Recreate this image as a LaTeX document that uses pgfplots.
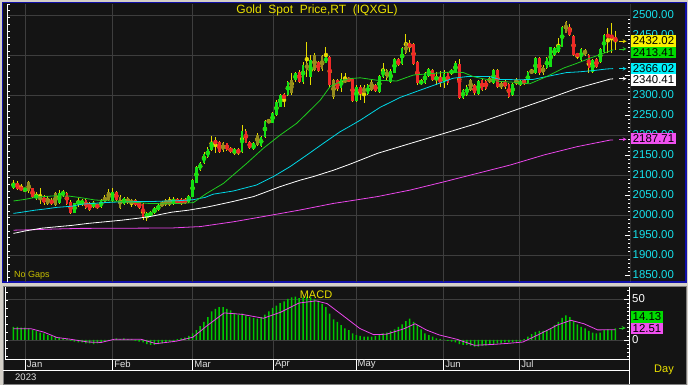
\documentclass[border=0pt]{standalone}
\usepackage{fontspec}
\setmainfont{Liberation Sans}
\usepackage{pgfplots}
\usepackage{pgfplotstable}
\pgfplotsset{compat=1.18}
\definecolor{panelbg}{RGB}{20,20,20}
\definecolor{outergray}{RGB}{212,208,200}
\definecolor{borderblue}{RGB}{16,16,168}
\definecolor{gridgray}{RGB}{62,62,62}
\definecolor{cgreen}{RGB}{20,225,20}
\definecolor{cred}{RGB}{238,40,40}
\definecolor{colive}{RGB}{150,140,30}
\definecolor{wick}{RGB}{230,220,0}
\definecolor{magreen}{RGB}{30,205,30}
\definecolor{macyan}{RGB}{0,215,230}
\definecolor{mamag}{RGB}{235,70,235}
\definecolor{labcyan}{RGB}{20,225,235}
\definecolor{ttlyellow}{RGB}{235,225,0}
\definecolor{histgreen}{RGB}{0,200,0}
\definecolor{boxgreen}{RGB}{0,220,0}
\definecolor{boxmag}{RGB}{240,80,240}
\definecolor{boxcyan}{RGB}{0,240,250}
\definecolor{boxyellow}{RGB}{250,240,0}
\definecolor{datelab}{RGB}{225,225,225}

\pgfplotsset{
  mainframe/.style={at={(7pt,103pt)}, anchor=south west, scale only axis,
    width=623pt, height=278pt,
    xmin=-1.706, xmax=161.81, ymin=1832.5, ymax=2527.5},
  overlay/.style={mainframe, hide axis},
}

\pgfplotstableread{
i o h l c t
0 2067 2088 2064 2081 1
1 2081 2084 2063 2066 2
2 2068 2077 2060 2064 2
3 2062 2068 2058 2065 1
4 2083 2086 2054 2060 3
5 2067 2068 2042 2046 2
6 2042 2058 2038 2050 1
7 2046 2067 2027 2038 3
8 2046 2050 2025 2029 2
9 2042 2048 2025 2028 3
10 2038 2042 2025 2028 2
11 2025 2058 2022 2054 3
12 2029 2062 2027 2054 1
13 2050 2062 2046 2058 1
14 2056 2058 2025 2028 2
15 2033 2037 2002 2004 2
16 2006 2031 2004 2029 1
17 2029 2042 2021 2033 1
18 2025 2040 2023 2037 1
19 2037 2040 2015 2017 2
20 2031 2033 2010 2012 2
21 2021 2034 2018 2031 1
22 2025 2028 2016 2019 2
23 2019 2040 2017 2037 1
24 2033 2050 2029 2046 3
25 2037 2066 2035 2058 3
26 2036 2067 2033 2058 1
27 2058 2060 2035 2037 2
28 2046 2050 2015 2017 3
29 2027 2046 2025 2042 1
30 2042 2045 2027 2029 3
31 2035 2040 2021 2031 3
32 2037 2040 2023 2025 2
33 2033 2035 2015 2017 2
34 2027 2029 1987 1996 2
35 1994 2008 1986 2004 1
36 1998 2010 1995 2008 1
37 2004 2019 2002 2017 1
38 2012 2027 2010 2025 1
39 2021 2035 2019 2033 3
40 2025 2040 2023 2037 3
41 2037 2046 2023 2025 3
42 2027 2046 2025 2039 1
43 2039 2042 2027 2029 2
44 2039 2042 2025 2027 2
45 2039 2042 2027 2029 2
46 2033 2050 2031 2048 1
47 2046 2090 2044 2088 1
48 2081 2123 2079 2121 1
49 2112 2133 2110 2131 1
50 2129 2158 2127 2152 1
51 2146 2169 2142 2164 1
52 2162 2197 2160 2183 1
53 2187 2196 2154 2177 2
54 2183 2185 2156 2158 2
55 2179 2183 2158 2162 3
56 2179 2181 2160 2162 2
57 2167 2170 2156 2158 2
58 2154 2167 2150 2164 1
59 2164 2167 2150 2154 2
60 2158 2225 2154 2211 1
61 2211 2215 2179 2181 2
62 2183 2186 2165 2167 2
63 2164 2182 2162 2179 1
64 2175 2206 2172 2200 3
65 2172 2198 2170 2196 1
66 2194 2238 2192 2236 1
67 2236 2238 2231 2232 3
68 2231 2258 2229 2254 1
69 2250 2287 2248 2283 1
70 2271 2302 2269 2300 1
71 2302 2304 2271 2289 2
72 2300 2336 2298 2333 1
73 2304 2356 2300 2337 3
74 2337 2358 2333 2354 1
75 2358 2362 2330 2333 2
76 2333 2383 2327 2375 1
77 2363 2433 2346 2379 3
78 2346 2400 2325 2388 1
79 2363 2404 2360 2400 3
80 2383 2386 2358 2361 2
81 2365 2400 2360 2398 3
82 2381 2421 2379 2396 1
83 2396 2398 2320 2325 2
84 2337 2340 2290 2296 3
85 2337 2340 2310 2314 2
86 2317 2354 2308 2340 1
87 2338 2354 2329 2333 3
88 2342 2344 2332 2335 2
89 2339 2341 2283 2286 2
90 2285 2324 2283 2321 1
91 2321 2325 2287 2302 2
92 2304 2325 2279 2321 3
93 2302 2327 2300 2325 1
94 2312 2337 2310 2333 3
95 2325 2328 2308 2311 2
96 2308 2350 2306 2348 1
97 2346 2381 2342 2364 1
98 2363 2366 2338 2342 3
99 2333 2365 2330 2361 1
100 2356 2392 2354 2389 1
101 2389 2392 2372 2375 2
102 2377 2420 2375 2417 1
103 2404 2452 2402 2429 3
104 2429 2438 2408 2419 2
105 2427 2431 2375 2377 2
106 2383 2385 2325 2329 2
107 2327 2340 2325 2336 1
108 2329 2358 2327 2356 1
109 2348 2367 2346 2364 1
110 2362 2365 2335 2337 2
111 2337 2358 2325 2346 1
112 2344 2361 2321 2329 2
113 2329 2362 2317 2352 1
114 2356 2358 2325 2329 2
115 2354 2365 2350 2362 1
116 2356 2384 2354 2379 1
117 2377 2389 2289 2292 2
118 2292 2314 2290 2312 1
119 2300 2324 2298 2321 1
120 2312 2340 2310 2337 3
121 2325 2328 2300 2304 2
122 2302 2338 2300 2336 1
123 2337 2340 2310 2313 2
124 2336 2338 2313 2316 2
125 2333 2344 2330 2341 3
126 2329 2366 2327 2362 1
127 2362 2364 2318 2321 2
128 2329 2333 2316 2319 3
129 2336 2338 2315 2319 2
130 2327 2329 2292 2296 2
131 2300 2330 2298 2327 1
132 2329 2342 2325 2337 3
133 2325 2338 2322 2336 1
134 2337 2340 2325 2327 2
135 2329 2360 2327 2358 1
136 2354 2366 2352 2362 3
137 2354 2394 2352 2392 1
138 2392 2394 2350 2354 2
139 2354 2375 2350 2371 3
140 2367 2394 2365 2392 1
141 2371 2421 2369 2419 1
142 2400 2419 2397 2417 1
143 2408 2442 2404 2425 1
144 2421 2473 2419 2471 1
145 2483 2485 2454 2456 3
146 2471 2478 2448 2450 2
147 2448 2450 2398 2400 2
148 2404 2406 2390 2396 2
149 2388 2417 2385 2414 1
150 2413 2416 2398 2400 3
151 2400 2402 2354 2367 2
152 2358 2390 2354 2387 1
153 2389 2392 2368 2371 2
154 2383 2417 2380 2414 1
155 2408 2452 2406 2450 1
156 2450 2467 2406 2446 2
157 2448 2479 2404 2444 2
158 2446 2461 2412 2432 2
}\candles

\begin{document}
\begin{tikzpicture}[x=1pt,y=1pt]
\useasboundingbox (0,0) rectangle (688,385);
\fill[outergray] (0,0) rectangle (688,385);
% main panel
\fill[panelbg] (2.5,103) rectangle (686,382.5);
\draw[borderblue, line width=1.8pt] (2.5,103) rectangle (686,382.5);
% macd panel
\fill[panelbg] (3,1) rectangle (686,99);
\draw[gray, line width=0.8pt] (3,1) rectangle (686,99);

% ---------- main price axis: grid, ticks, labels, wicks ----------
\begin{axis}[
  mainframe,
  axis line style={draw=none},
  xtick={3.10,26.04,47.03,68.19,89.9,112.9,132.9}, xticklabels={},
  x tick style={draw=none},
  xmajorgrids,
  ytick={1850,1900,...,2500},
  yticklabels={1850.00,1900.00,1950.00,2000.00,2050.00,2100.00,2150.00,2200.00,2250.00,2300.00,2350.00,2400.00,2450.00,2500.00},
  minor y tick num=4,
  ytick pos=right, tick align=inside,
  y tick style={white, line width=0.6pt},
  major tick length=5pt, minor tick length=2.5pt,
  yticklabel style={font=\fontsize{11.4}{13}\selectfont, text=labcyan, anchor=west, inner sep=0pt, xshift=2.5pt},
  extra y ticks={1900,2000,2100,2200,2300,2400,2500},
  extra y tick labels={},
  extra y tick style={grid=major, major tick length=0pt},
  major grid style={gridgray, line width=0.8pt},
]
\addplot[wick, only marks, mark=none,
  error bars/.cd, y dir=both, y explicit, error mark=none,
  error bar style={draw=wick, line width=0.9pt}]
  table[x=i, y expr={(\thisrow{h}+\thisrow{l})/2}, y error expr={(\thisrow{h}-\thisrow{l})/2}] {\candles};
\draw[white, line width=0.8pt] (rel axis cs:1,0) -- (rel axis cs:1,1);
\end{axis}
% green bodies
\begin{axis}[overlay]
\addplot[cgreen, only marks, mark=none, restrict y to domain=1800:2600,
  error bars/.cd, y dir=both, y explicit, error mark=none,
  error bar style={draw=cgreen, line width=2.6pt}]
  table[x=i, y expr={(\thisrow{t}==1) ? ((\thisrow{o}+\thisrow{c})/2) : 9000}, y error expr={abs(\thisrow{c}-\thisrow{o})/2}] {\candles};
\end{axis}
% red bodies
\begin{axis}[overlay]
\addplot[cred, only marks, mark=none, restrict y to domain=1800:2600,
  error bars/.cd, y dir=both, y explicit, error mark=none,
  error bar style={draw=cred, line width=2.6pt}]
  table[x=i, y expr={(\thisrow{t}==2) ? ((\thisrow{o}+\thisrow{c})/2) : 9000}, y error expr={abs(\thisrow{c}-\thisrow{o})/2}] {\candles};
\end{axis}
% olive bodies
\begin{axis}[overlay]
\addplot[colive, only marks, mark=none, restrict y to domain=1800:2600,
  error bars/.cd, y dir=both, y explicit, error mark=none,
  error bar style={draw=colive, line width=2.6pt}]
  table[x=i, y expr={(\thisrow{t}==3) ? ((\thisrow{o}+\thisrow{c})/2) : 9000}, y error expr={abs(\thisrow{c}-\thisrow{o})/2}] {\candles};
\end{axis}
% moving averages
\begin{axis}[overlay]
\addplot[mamag, line width=0.8pt] coordinates {(0,1962) (4,1963) (11,1965) (17.5,1966.5) (30,1967) (41.5,1967.5) (46.7,1970) (49,1971) (57.7,1983) (66.4,1997.5) (75.2,2012.5) (84,2029) (86.8,2033) (95.5,2046) (104.2,2062.5) (113,2083) (121.7,2104) (130.4,2125) (139.2,2150) (148,2171) (156.7,2187.5) (157.4,2187.7)};
\addplot[white, line width=0.8pt] coordinates {(0,1954) (3,1960) (7.4,1967) (11.8,1971) (15.3,1974) (19.6,1979) (24,1983) (28.4,1987) (32.8,1992) (36.3,1997) (38.9,2002) (41.5,2007) (45.9,2012) (50.3,2019) (52.4,2023) (57.7,2034) (61.2,2042) (63,2046) (66.4,2058) (70,2071) (75.2,2087) (78.7,2096) (84,2112) (88.3,2127) (95.5,2154) (104.2,2179) (113,2204) (121.7,2229) (130.4,2258) (139.2,2287) (148,2317) (156.7,2340) (157.4,2340.4)};
\addplot[macyan, line width=0.8pt] coordinates {(0,2004) (2.2,2007) (5.6,2012) (8.3,2015) (11.3,2019) (15.3,2022) (17.9,2027) (24,2031) (28.4,2033) (37.1,2034) (43.7,2036) (47,2038) (50.3,2044) (52.4,2052) (57.7,2060) (63.8,2075) (68.2,2096) (72.6,2121) (77,2150) (81.3,2179) (85.7,2208) (88.3,2222) (91,2237) (96.2,2269) (101.5,2294) (106.7,2312) (111.1,2327) (115.4,2342) (119,2346) (125,2346) (127.6,2339) (132.9,2338) (136.4,2339) (139.9,2346) (145.1,2356) (148.6,2358) (152.1,2361) (155.6,2365) (157.4,2366)};
\addplot[magreen, line width=0.8pt] coordinates {(0,2035) (3,2039) (5.6,2044) (7.8,2046) (10.9,2048) (14.4,2047.5) (17.9,2043) (21.4,2037.5) (25.8,2035) (31,2032.5) (35.4,2029) (39.8,2028) (43.7,2029) (47.2,2031) (50.7,2054) (55.1,2079) (61.2,2129) (65.6,2167) (70,2200) (74.3,2229) (77,2254) (80.5,2287) (83.1,2321) (86.6,2337) (88.3,2341) (91,2343) (95.3,2337) (100.6,2335) (103.2,2344) (105,2350) (110.2,2354) (115.4,2358) (118.1,2356) (120.7,2346) (123,2341) (127.6,2334) (131.1,2332) (135.5,2328) (139.9,2346) (144.3,2367) (147.8,2379) (151.3,2392) (154.8,2404) (157.4,2413)};
\end{axis}
% left ticks of main panel
\begin{axis}[
  at={(7pt,103pt)}, anchor=south west, scale only axis,
  width=623pt, height=278pt,
  xmin=0, xmax=1, ymin=0, ymax=278,
  axis x line=none, axis y line*=left,
  axis line style={white, line width=0.8pt},
  ytick={4.4,11.07,...,278}, yticklabels={},
  tick align=inside, major tick length=2.5pt,
  y tick style={white, line width=0.6pt},
]
\addplot[draw=none] coordinates {(0,0)};
\end{axis}

% ---------- MACD axis ----------
\begin{axis}[
  at={(5pt,26pt)}, anchor=south west, scale only axis,
  width=624pt, height=72pt,
  xmin=-2.23, xmax=161.55, ymin=-23.2, ymax=64.6,
  axis line style={draw=none},
  xtick={3.10,26.04,47.03,68.19,89.9,112.9,132.9}, xticklabels={},
  x tick style={draw=none},
  xmajorgrids, ymajorgrids,
  ytick={0,50}, yticklabels={0,50},
  minor ytick={-20,-15,...,60},
  ytick pos=right, tick align=inside,
  y tick style={white, line width=0.6pt},
  major tick length=5pt, minor tick length=2.5pt,
  yticklabel style={font=\fontsize{11.4}{13}\selectfont, text=white, anchor=west, inner sep=0pt, xshift=3pt},
  major grid style={gridgray, line width=0.8pt},
]
\addplot[ybar, bar width=1.5pt, fill=histgreen, draw=none] coordinates {
(0,16) (1,16) (2,15) (3,15) (4,14) (5,12) (6,11) (7,9) (8,8) (9,6) (10,5) (11,4) (12,3) (13,2) (14,1)
(15,-1) (16,-2) (17,-3) (18,-3) (19,-4) (20,-4) (21,-5) (22,-4) (23,-3) (24,-2) (25,-1) (26,1) (27,2) (28,1) (29,2)
(30,1) (31,1) (32,-1) (33,-2) (34,-3) (35,-5) (36,-6) (37,-6) (38,-5) (39,-4) (40,-3) (41,-2) (42,-1) (43,1) (44,2)
(45,3) (46,5) (47,8) (48,12) (49,17) (50,22) (51,28) (52,35) (53,38) (54,40) (55,40) (56,38) (57,36) (58,33) (59,31)
(60,32) (61,30) (62,28) (63,27) (64,26) (65,28) (66,31) (67,35) (68,39) (69,42) (70,45) (71,47) (72,50) (73,52) (74,53)
(75,51) (76,52) (77,53) (78,52) (79,50) (80,48) (81,44) (82,40) (83,32) (84,25) (85,22) (86,18) (87,14) (88,12) (89,8)
(90,6) (91,5) (92,4) (93,4) (94,4) (95,5) (96,6) (97,8) (98,9) (99,11) (100,13) (101,16) (102,19) (103,23) (104,26)
(105,22) (106,18) (107,13) (108,8) (109,6) (110,4) (111,2) (112,1) (113,0.5) (114,-1) (115,-2) (116,-3) (117,-5) (118,-6) (119,-6)
(120,-7) (121,-8) (122,-8) (123,-7) (124,-7) (125,-6) (126,-5) (127,-4) (128,-4) (129,-3) (130,-3) (131,-3) (132,-2) (133,-2) (134,1)
(135,4) (136,7) (137,10) (138,11) (139,11) (140,12) (141,14) (142,18) (143,22) (144,27) (145,30) (146,28) (147,23) (148,19) (149,16)
(150,14) (151,11) (152,9) (153,8) (154,9) (155,12) (156,13) (157,12) (158,14.13)};
\addplot[mamag, line width=0.8pt] coordinates {(0,13.7) (4.6,13.7) (8,9.5) (11.4,3) (14.8,1) (19.6,-2.5) (23,-3) (26.4,0.8) (33.5,0.8) (37.4,-4.5) (42.7,-1.5) (47.1,3.4) (50.7,17) (55.3,33) (59.9,31.3) (65.6,26.5) (70.2,34) (74.9,45) (79.4,47.7) (82.3,44.4) (86.4,30) (90.9,14) (94.5,6.5) (97.9,7) (102.5,13.7) (105.4,19.8) (108.3,12.3) (111.7,6.2) (116.4,0.8) (121,-6.5) (125.6,-5.5) (130.2,-4) (133.7,-2.5) (138.2,7.4) (142.9,18.5) (146.3,24) (149.7,19.8) (153.3,12.3) (158,12.51)};
\end{axis}
% left ticks of MACD panel
\begin{axis}[
  at={(5pt,26pt)}, anchor=south west, scale only axis,
  width=624pt, height=72pt,
  xmin=0, xmax=1, ymin=0, ymax=72,
  axis x line=none, axis y line*=left,
  axis line style={white, line width=0.8pt},
  ytick={3,11,...,72}, yticklabels={},
  tick align=inside, major tick length=3pt,
  y tick style={white, line width=0.6pt},
]
\addplot[draw=none] coordinates {(0,0)};
\end{axis}

% date strip
\draw[white, line width=0.8pt] (5,26) -- (629,26);
\draw[white, line width=0.8pt] (3,15) -- (629,15);
\draw[white, line width=0.8pt] (629,1) -- (629,98);
\foreach \px/\m in {25.3/Jan,112.7/Feb,192.7/Mar,273.3/Apr,356/May,443.7/Jun,519.7/Jul}{
  \draw[white, line width=0.8pt] (\px,26) -- (\px,15);
  \node[anchor=west, inner sep=0pt, text=datelab, font=\fontsize{9.5}{10}\selectfont] at (\px+1.5,20.5) {\m};
}
\node[anchor=west, inner sep=0pt, text=datelab, font=\fontsize{9.5}{10}\selectfont] at (15,7.5) {2023};
\node[text=ttlyellow, font=\fontsize{11}{12}\selectfont] at (664,15) {Day};

% titles
\node[text=ttlyellow, font=\fontsize{12}{13}\selectfont] at (317,374.5) {Gold~~Spot~~Price,RT~~(IQXGL)};
\node[anchor=west, inner sep=0pt, text=ttlyellow!85!black, font=\fontsize{9}{10}\selectfont] at (14,109.5) {No Gaps};
\node[text=ttlyellow, font=\fontsize{11}{12}\selectfont] at (316,90.5) {MACD};

% last value boxes
\tikzset{vbox/.style={fill=#1, text=black, inner sep=0pt, minimum width=45pt, minimum height=11.5pt, font=\fontsize{11.4}{12}\selectfont}}
\node[vbox=boxyellow] at (653.5,344) {2432.02};
\node[vbox=boxgreen] at (653.5,332.3) {2413.41};
\node[vbox=boxcyan] at (653.5,316.5) {2366.02};
\node[vbox=white] at (653.5,305) {2340.41};
\node[vbox=boxmag] at (653.5,246.5) {2187.71};
\draw[wick, -stealth, line width=0.7pt] (619,343.7) -- (626.5,343.7);
\draw[magreen, -stealth, line width=0.7pt] (619,336) -- (626.5,336);
\draw[macyan, -stealth, line width=0.7pt] (619,316.3) -- (626.5,316.3);
\draw[white, -stealth, line width=0.7pt] (619,306.3) -- (626.5,306.3);
\draw[mamag, -stealth, line width=0.7pt] (619,245.7) -- (626.5,245.7);
% MACD value boxes
\node[fill=boxgreen, text=black, inner sep=0pt, minimum width=32pt, minimum height=11.5pt, font=\fontsize{11.4}{12}\selectfont] at (647,68) {14.13};
\node[fill=boxmag, text=black, inner sep=0pt, minimum width=32pt, minimum height=11.5pt, font=\fontsize{11.4}{12}\selectfont] at (647,56.3) {12.51};
\draw[magreen, -stealth, line width=0.7pt] (618.5,57) -- (625.5,57);
\end{tikzpicture}
\end{document}
